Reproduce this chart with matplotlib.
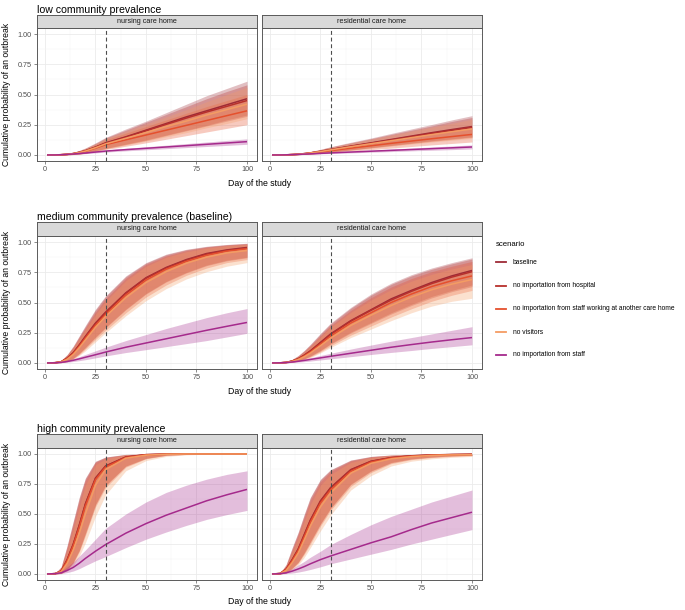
import matplotlib
matplotlib.use("Agg")
from matplotlib import pyplot as plt
from matplotlib.lines import Line2D

plt.rcParams['font.family'] = ['Liberation Sans', 'DejaVu Sans']

days = [1, 5, 8, 11, 14, 17, 20, 25, 30, 40, 50, 60, 70, 80, 90, 100]
scenarios = ["baseline", "no importation from hospital",
             "no importation from staff working at another care home",
             "no visitors", "no importation from staff"]
colours = ["#9E2B37", "#B8302C", "#E5502D", "#F49C63", "#A52A8C"]
row_titles = ["low community prevalence", "medium community prevalence (baseline)",
              "high community prevalence"]
home_types = ["nursing care home", "residential care home"]
intervention_day = 30

# ---- low prevalence, nursing ----
low_nursing_mid = [
    [0, 0, 0.002, 0.005, 0.012, 0.022, 0.035, 0.065, 0.10, 0.15, 0.205, 0.26, 0.315, 0.365, 0.415, 0.465],
    [0, 0, 0.002, 0.005, 0.011, 0.021, 0.034, 0.063, 0.097, 0.146, 0.2, 0.253, 0.305, 0.355, 0.402, 0.45],
    [0, 0, 0.002, 0.005, 0.01, 0.019, 0.03, 0.056, 0.085, 0.125, 0.165, 0.205, 0.245, 0.285, 0.325, 0.365],
    [0, 0, 0.002, 0.005, 0.011, 0.02, 0.032, 0.06, 0.092, 0.138, 0.185, 0.235, 0.28, 0.33, 0.375, 0.42],
    [0, 0, 0.002, 0.005, 0.008, 0.012, 0.016, 0.024, 0.032, 0.044, 0.055, 0.066, 0.077, 0.088, 0.099, 0.11],
]
low_nursing_lo = [
    [0, 0, 0, 0.001, 0.004, 0.009, 0.016, 0.035, 0.055, 0.09, 0.125, 0.165, 0.205, 0.245, 0.29, 0.33],
    [0, 0, 0, 0.001, 0.004, 0.008, 0.015, 0.033, 0.052, 0.086, 0.12, 0.16, 0.2, 0.24, 0.28, 0.32],
    [0, 0, 0, 0.001, 0.003, 0.007, 0.013, 0.028, 0.045, 0.072, 0.1, 0.13, 0.16, 0.19, 0.22, 0.25],
    [0, 0, 0, 0.001, 0.004, 0.008, 0.014, 0.03, 0.05, 0.082, 0.115, 0.15, 0.185, 0.225, 0.26, 0.3],
    [0, 0, 0.001, 0.003, 0.005, 0.008, 0.011, 0.017, 0.024, 0.034, 0.043, 0.052, 0.061, 0.07, 0.079, 0.088],
]
low_nursing_hi = [
    [0, 0, 0.005, 0.011, 0.022, 0.038, 0.058, 0.1, 0.145, 0.215, 0.28, 0.35, 0.42, 0.49, 0.55, 0.61],
    [0, 0, 0.005, 0.011, 0.021, 0.036, 0.055, 0.095, 0.14, 0.205, 0.27, 0.335, 0.4, 0.465, 0.525, 0.58],
    [0, 0, 0.004, 0.01, 0.019, 0.032, 0.048, 0.085, 0.125, 0.18, 0.235, 0.29, 0.345, 0.4, 0.45, 0.5],
    [0, 0, 0.005, 0.011, 0.02, 0.035, 0.052, 0.09, 0.135, 0.195, 0.255, 0.315, 0.375, 0.44, 0.5, 0.56],
    [0, 0, 0.003, 0.007, 0.011, 0.016, 0.021, 0.031, 0.041, 0.055, 0.068, 0.081, 0.094, 0.107, 0.12, 0.133],
]

# ---- low prevalence, residential ----
low_resid_mid = [
    [0, 0, 0.001, 0.003, 0.006, 0.011, 0.017, 0.03, 0.045, 0.073, 0.1, 0.128, 0.156, 0.184, 0.21, 0.235],
    [0, 0, 0.001, 0.003, 0.006, 0.011, 0.017, 0.029, 0.044, 0.071, 0.097, 0.124, 0.151, 0.178, 0.203, 0.228],
    [0, 0, 0.001, 0.003, 0.005, 0.009, 0.014, 0.024, 0.035, 0.056, 0.076, 0.096, 0.115, 0.134, 0.152, 0.17],
    [0, 0, 0.001, 0.003, 0.006, 0.01, 0.016, 0.028, 0.042, 0.068, 0.093, 0.118, 0.143, 0.168, 0.192, 0.215],
    [0, 0, 0.001, 0.003, 0.005, 0.007, 0.009, 0.013, 0.017, 0.024, 0.031, 0.038, 0.045, 0.052, 0.059, 0.066],
]
low_resid_lo = [
    [0, 0, 0, 0.001, 0.002, 0.005, 0.008, 0.016, 0.025, 0.043, 0.061, 0.08, 0.099, 0.118, 0.134, 0.15],
    [0, 0, 0, 0.001, 0.002, 0.005, 0.008, 0.015, 0.024, 0.041, 0.059, 0.077, 0.095, 0.113, 0.129, 0.145],
    [0, 0, 0, 0.001, 0.002, 0.004, 0.006, 0.012, 0.018, 0.031, 0.044, 0.057, 0.07, 0.083, 0.095, 0.107],
    [0, 0, 0, 0.001, 0.002, 0.005, 0.008, 0.015, 0.023, 0.04, 0.056, 0.073, 0.09, 0.107, 0.122, 0.137],
    [0, 0, 0, 0.002, 0.003, 0.004, 0.006, 0.009, 0.012, 0.017, 0.023, 0.028, 0.034, 0.039, 0.044, 0.05],
]
low_resid_hi = [
    [0, 0, 0.003, 0.007, 0.012, 0.019, 0.028, 0.047, 0.068, 0.105, 0.14, 0.178, 0.215, 0.252, 0.29, 0.325],
    [0, 0, 0.003, 0.007, 0.012, 0.018, 0.027, 0.045, 0.066, 0.1, 0.134, 0.17, 0.205, 0.24, 0.277, 0.31],
    [0, 0, 0.002, 0.006, 0.01, 0.015, 0.022, 0.037, 0.053, 0.082, 0.108, 0.135, 0.16, 0.186, 0.21, 0.235],
    [0, 0, 0.003, 0.006, 0.011, 0.017, 0.026, 0.043, 0.063, 0.097, 0.13, 0.164, 0.197, 0.23, 0.262, 0.295],
    [0, 0, 0.002, 0.004, 0.007, 0.01, 0.012, 0.017, 0.022, 0.031, 0.04, 0.049, 0.057, 0.066, 0.074, 0.083],
]

# ---- medium prevalence, nursing ----
med_nursing_mid = [
    [0, 0.002, 0.01, 0.04, 0.085, 0.15, 0.22, 0.33, 0.42, 0.58, 0.705, 0.79, 0.855, 0.905, 0.935, 0.955],
    [0, 0.002, 0.01, 0.038, 0.082, 0.146, 0.215, 0.325, 0.415, 0.575, 0.7, 0.785, 0.85, 0.9, 0.93, 0.95],
    [0, 0.002, 0.009, 0.035, 0.077, 0.138, 0.205, 0.31, 0.4, 0.56, 0.685, 0.775, 0.84, 0.89, 0.925, 0.945],
    [0, 0.002, 0.008, 0.03, 0.07, 0.127, 0.19, 0.295, 0.385, 0.54, 0.665, 0.755, 0.825, 0.875, 0.91, 0.93],
    [0, 0.001, 0.005, 0.012, 0.022, 0.034, 0.047, 0.068, 0.09, 0.13, 0.165, 0.2, 0.235, 0.27, 0.303, 0.335],
]
med_nursing_lo = [
    [0, 0, 0.003, 0.015, 0.04, 0.08, 0.13, 0.215, 0.295, 0.445, 0.575, 0.675, 0.75, 0.81, 0.85, 0.875],
    [0, 0, 0.003, 0.014, 0.038, 0.077, 0.125, 0.21, 0.29, 0.44, 0.57, 0.67, 0.745, 0.805, 0.845, 0.87],
    [0, 0, 0.003, 0.012, 0.034, 0.07, 0.115, 0.195, 0.27, 0.415, 0.545, 0.645, 0.725, 0.785, 0.83, 0.855],
    [0, 0, 0.002, 0.01, 0.03, 0.062, 0.1, 0.175, 0.25, 0.39, 0.515, 0.615, 0.695, 0.755, 0.8, 0.83],
    [0, 0, 0.002, 0.006, 0.012, 0.019, 0.027, 0.042, 0.058, 0.086, 0.11, 0.135, 0.16, 0.185, 0.215, 0.245],
]
med_nursing_hi = [
    [0, 0.006, 0.022, 0.07, 0.14, 0.225, 0.31, 0.445, 0.555, 0.72, 0.83, 0.9, 0.94, 0.965, 0.98, 0.99],
    [0, 0.006, 0.021, 0.068, 0.136, 0.22, 0.302, 0.437, 0.548, 0.713, 0.825, 0.895, 0.937, 0.962, 0.978, 0.988],
    [0, 0.006, 0.02, 0.065, 0.13, 0.21, 0.29, 0.42, 0.53, 0.7, 0.815, 0.885, 0.93, 0.958, 0.975, 0.985],
    [0, 0.005, 0.018, 0.058, 0.12, 0.196, 0.275, 0.4, 0.51, 0.68, 0.8, 0.875, 0.92, 0.95, 0.97, 0.98],
    [0, 0.003, 0.01, 0.021, 0.035, 0.052, 0.07, 0.1, 0.13, 0.185, 0.235, 0.285, 0.33, 0.375, 0.415, 0.45],
]

# ---- medium prevalence, residential ----
med_resid_mid = [
    [0, 0.001, 0.005, 0.016, 0.035, 0.065, 0.1, 0.17, 0.24, 0.35, 0.44, 0.53, 0.6, 0.665, 0.72, 0.765],
    [0, 0.001, 0.005, 0.015, 0.034, 0.063, 0.098, 0.166, 0.235, 0.345, 0.435, 0.52, 0.592, 0.656, 0.71, 0.755],
    [0, 0.001, 0.004, 0.014, 0.031, 0.058, 0.09, 0.155, 0.222, 0.33, 0.415, 0.5, 0.57, 0.632, 0.68, 0.72],
    [0, 0.001, 0.004, 0.012, 0.028, 0.052, 0.082, 0.143, 0.205, 0.31, 0.395, 0.475, 0.545, 0.605, 0.652, 0.69],
    [0, 0.001, 0.003, 0.008, 0.014, 0.021, 0.029, 0.042, 0.055, 0.08, 0.105, 0.13, 0.152, 0.173, 0.192, 0.21],
]
med_resid_lo = [
    [0, 0, 0.002, 0.007, 0.018, 0.035, 0.058, 0.105, 0.16, 0.255, 0.335, 0.415, 0.485, 0.55, 0.6, 0.645],
    [0, 0, 0.002, 0.007, 0.017, 0.034, 0.056, 0.1, 0.155, 0.248, 0.327, 0.405, 0.475, 0.538, 0.59, 0.632],
    [0, 0, 0.002, 0.006, 0.015, 0.03, 0.05, 0.092, 0.142, 0.23, 0.305, 0.38, 0.448, 0.51, 0.56, 0.6],
    [0, 0, 0.001, 0.005, 0.013, 0.026, 0.044, 0.083, 0.128, 0.21, 0.28, 0.35, 0.415, 0.47, 0.51, 0.535],
    [0, 0, 0.001, 0.004, 0.007, 0.011, 0.016, 0.025, 0.034, 0.052, 0.07, 0.087, 0.103, 0.12, 0.135, 0.15],
]
med_resid_hi = [
    [0, 0.003, 0.011, 0.03, 0.062, 0.105, 0.155, 0.245, 0.33, 0.46, 0.57, 0.66, 0.73, 0.785, 0.83, 0.87],
    [0, 0.003, 0.011, 0.029, 0.06, 0.102, 0.15, 0.238, 0.322, 0.452, 0.56, 0.65, 0.72, 0.775, 0.82, 0.86],
    [0, 0.003, 0.01, 0.027, 0.056, 0.096, 0.142, 0.226, 0.308, 0.435, 0.54, 0.628, 0.698, 0.755, 0.8, 0.84],
    [0, 0.003, 0.009, 0.025, 0.052, 0.09, 0.134, 0.215, 0.295, 0.418, 0.52, 0.607, 0.677, 0.733, 0.778, 0.815],
    [0, 0.002, 0.006, 0.013, 0.022, 0.032, 0.043, 0.062, 0.08, 0.115, 0.148, 0.18, 0.21, 0.24, 0.27, 0.3],
]

# ---- high prevalence, nursing ----
high_nursing_mid = [
    [0, 0.003, 0.025, 0.12, 0.25, 0.41, 0.585, 0.8, 0.9, 0.975, 0.995, 0.999, 1, 1, 1, 1],
    [0, 0.003, 0.024, 0.118, 0.245, 0.405, 0.58, 0.795, 0.898, 0.974, 0.994, 0.999, 1, 1, 1, 1],
    [0, 0.003, 0.022, 0.11, 0.235, 0.39, 0.565, 0.785, 0.89, 0.97, 0.993, 0.998, 1, 1, 1, 1],
    [0, 0.003, 0.018, 0.09, 0.2, 0.34, 0.5, 0.74, 0.87, 0.965, 0.99, 0.998, 1, 1, 1, 1],
    [0, 0.003, 0.01, 0.03, 0.055, 0.09, 0.13, 0.19, 0.245, 0.34, 0.42, 0.49, 0.55, 0.61, 0.66, 0.705],
]
high_nursing_lo = [
    [0, 0, 0.006, 0.04, 0.1, 0.2, 0.34, 0.58, 0.74, 0.9, 0.965, 0.99, 0.997, 1, 1, 1],
    [0, 0, 0.006, 0.038, 0.097, 0.195, 0.335, 0.575, 0.735, 0.898, 0.963, 0.989, 0.997, 1, 1, 1],
    [0, 0, 0.005, 0.034, 0.09, 0.185, 0.32, 0.56, 0.72, 0.89, 0.96, 0.988, 0.996, 1, 1, 1],
    [0, 0, 0.004, 0.025, 0.07, 0.15, 0.26, 0.48, 0.66, 0.86, 0.945, 0.98, 0.993, 0.998, 1, 1],
    [0, 0, 0.003, 0.012, 0.025, 0.045, 0.07, 0.11, 0.145, 0.22, 0.29, 0.35, 0.405, 0.455, 0.495, 0.53],
]
high_nursing_hi = [
    [0, 0.006, 0.06, 0.24, 0.44, 0.64, 0.8, 0.94, 0.975, 0.997, 1, 1, 1, 1, 1, 1],
    [0, 0.006, 0.058, 0.235, 0.435, 0.635, 0.795, 0.937, 0.974, 0.996, 1, 1, 1, 1, 1, 1],
    [0, 0.006, 0.054, 0.22, 0.415, 0.61, 0.78, 0.93, 0.97, 0.995, 1, 1, 1, 1, 1, 1],
    [0, 0.005, 0.045, 0.19, 0.37, 0.56, 0.74, 0.91, 0.96, 0.993, 0.999, 1, 1, 1, 1, 1],
    [0, 0.006, 0.022, 0.06, 0.1, 0.15, 0.2, 0.29, 0.38, 0.5, 0.6, 0.68, 0.74, 0.79, 0.83, 0.86],
]

# ---- high prevalence, residential ----
high_resid_mid = [
    [0, 0.004, 0.04, 0.12, 0.21, 0.33, 0.45, 0.61, 0.72, 0.87, 0.94, 0.97, 0.985, 0.992, 0.996, 0.998],
    [0, 0.004, 0.039, 0.117, 0.205, 0.325, 0.445, 0.605, 0.715, 0.866, 0.938, 0.969, 0.984, 0.991, 0.995, 0.997],
    [0, 0.004, 0.036, 0.11, 0.195, 0.31, 0.43, 0.59, 0.7, 0.855, 0.932, 0.966, 0.982, 0.99, 0.994, 0.996],
    [0, 0.003, 0.03, 0.095, 0.175, 0.285, 0.4, 0.56, 0.675, 0.84, 0.922, 0.96, 0.978, 0.988, 0.992, 0.994],
    [0, 0.003, 0.01, 0.024, 0.042, 0.062, 0.085, 0.12, 0.15, 0.205, 0.26, 0.31, 0.37, 0.425, 0.47, 0.515],
]
high_resid_lo = [
    [0, 0, 0.012, 0.05, 0.1, 0.18, 0.27, 0.42, 0.55, 0.75, 0.86, 0.93, 0.96, 0.975, 0.985, 0.99],
    [0, 0, 0.011, 0.048, 0.097, 0.175, 0.265, 0.415, 0.545, 0.745, 0.856, 0.927, 0.958, 0.974, 0.984, 0.989],
    [0, 0, 0.01, 0.044, 0.09, 0.165, 0.25, 0.4, 0.53, 0.73, 0.845, 0.92, 0.953, 0.97, 0.98, 0.986],
    [0, 0, 0.007, 0.035, 0.075, 0.14, 0.22, 0.36, 0.49, 0.7, 0.82, 0.9, 0.94, 0.96, 0.972, 0.98],
    [0, 0, 0.003, 0.008, 0.016, 0.026, 0.038, 0.06, 0.085, 0.125, 0.165, 0.205, 0.25, 0.29, 0.33, 0.37],
]
high_resid_hi = [
    [0, 0.008, 0.08, 0.22, 0.35, 0.5, 0.64, 0.79, 0.87, 0.95, 0.98, 0.992, 0.997, 0.999, 1, 1],
    [0, 0.008, 0.078, 0.215, 0.345, 0.495, 0.635, 0.785, 0.866, 0.948, 0.979, 0.991, 0.996, 0.999, 1, 1],
    [0, 0.007, 0.072, 0.2, 0.33, 0.475, 0.615, 0.77, 0.855, 0.943, 0.976, 0.99, 0.996, 0.998, 1, 1],
    [0, 0.006, 0.06, 0.18, 0.3, 0.44, 0.58, 0.74, 0.83, 0.93, 0.97, 0.987, 0.994, 0.997, 0.999, 1],
    [0, 0.006, 0.02, 0.045, 0.075, 0.105, 0.14, 0.19, 0.245, 0.33, 0.41, 0.48, 0.54, 0.6, 0.65, 0.7],
]

panels = [
    [(low_nursing_mid, low_nursing_lo, low_nursing_hi), (low_resid_mid, low_resid_lo, low_resid_hi)],
    [(med_nursing_mid, med_nursing_lo, med_nursing_hi), (med_resid_mid, med_resid_lo, med_resid_hi)],
    [(high_nursing_mid, high_nursing_lo, high_nursing_hi), (high_resid_mid, high_resid_lo, high_resid_hi)],
]

W, H = 685, 610
fig = plt.figure(figsize=(W / 100, H / 100), dpi=100)


def px_axes(x0, y0, x1, y1):
    # pixel box (from top-left) -> figure axes
    return fig.add_axes([x0 / W, 1 - y1 / H, (x1 - x0) / W, (y1 - y0) / H])


# (strip top, panel top, panel bottom) in pixels
rows = [(15, 28, 161), (222, 236, 369), (434, 448, 580)]
cols = [(37, 257), (262, 482)]
border = "#5A5A5A"

for r, (s_top, p_top, p_bot) in enumerate(rows):
    fig.text(37 / W, 1 - (s_top - 5) / H, row_titles[r], fontsize=7.6, ha="left", va="center")
    for c, (x0, x1) in enumerate(cols):
        mid, lo, hi = panels[r][c]
        ax = px_axes(x0, p_top, x1, p_bot)
        for i in range(len(scenarios)):
            ax.fill_between(days, lo[i], hi[i], color=colours[i], alpha=0.3, lw=0)
        for i in range(len(scenarios)):
            ax.plot(days, mid[i], color=colours[i], lw=1.1, solid_capstyle="butt")
        ax.axvline(intervention_day, color="#4D4D4D", lw=0.8, ls=(0, (3.5, 2.5)))
        ax.set_xlim(-3.95, 104.95)
        ax.set_ylim(-0.05, 1.05)
        ax.set_xticks([0, 25, 50, 75, 100])
        ax.set_xticklabels(["0", "25", "50", "75", "100"])
        ax.set_xticks([12.5, 37.5, 62.5, 87.5], minor=True)
        ax.set_yticks([0, 0.25, 0.5, 0.75, 1.0])
        ax.set_yticks([0.125, 0.375, 0.625, 0.875], minor=True)
        ax.grid(which="major", color="#EBEBEB", lw=0.6)
        ax.grid(which="minor", color="#F3F3F3", lw=0.35)
        ax.set_axisbelow(True)
        ax.tick_params(which="minor", length=0)
        ax.tick_params(which="major", length=2, width=0.5, color=border,
                       labelsize=5.2, labelcolor="#4D4D4D", pad=1.8)
        if c == 0:
            ax.set_yticklabels(["0.00", "0.25", "0.50", "0.75", "1.00"])
        else:
            ax.tick_params(axis="y", length=0, labelleft=False)
        for sp in ax.spines.values():
            sp.set_color(border)
            sp.set_linewidth(0.7)

        st = px_axes(x0, s_top, x1, p_top)
        st.set_facecolor("#D9D9D9")
        st.set_xticks([])
        st.set_yticks([])
        for sp in st.spines.values():
            sp.set_color(border)
            sp.set_linewidth(0.7)
        st.text(0.5, 0.5, home_types[c], transform=st.transAxes, ha="center",
                va="center", fontsize=5.2, color="#1A1A1A")

    fig.text(260 / W, 1 - (p_bot + 22) / H, "Day of the study", fontsize=6.3,
             ha="center", va="center")
    fig.text(7 / W, 1 - ((p_top + p_bot) / 2) / H, "Cumulative probability of an outbreak",
             fontsize=6.2, rotation=90, ha="center", va="center")

# legend
fig.text(496 / W, 1 - 244 / H, "scenario", fontsize=5.6, ha="left", va="center")
legend_y = [262, 286, 309, 332, 355]
for i, name in enumerate(scenarios):
    y = 1 - legend_y[i] / H
    fig.add_artist(Line2D([496 / W, 506 / W], [y, y], color=colours[i], lw=1.3))
    fig.text(513 / W, y, name, fontsize=4.75, ha="left", va="center")

fig.savefig("out.png", dpi=100)
